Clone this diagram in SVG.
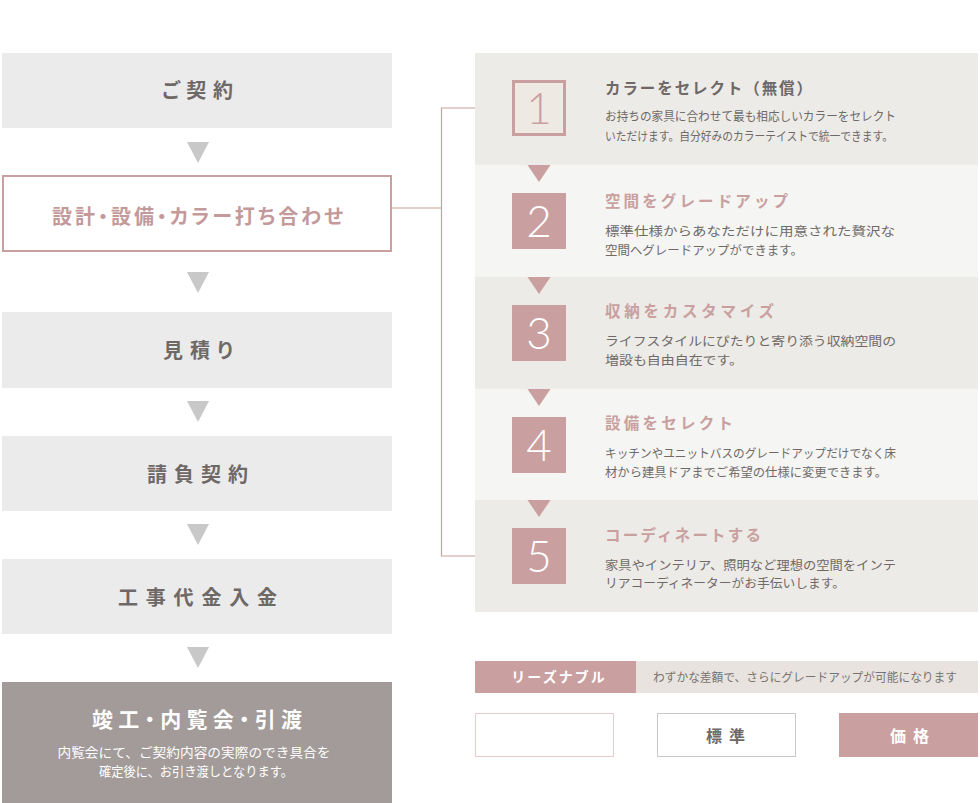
<svg xmlns="http://www.w3.org/2000/svg" width="980" height="803" viewBox="0 0 980 803">
<style>
.step{fill:#ebebeb}
.stepT{font-family:"Noto Sans CJK JP","Noto Sans",sans-serif;font-weight:700;font-size:20px;fill:#6e6867;font-feature-settings:"palt"}
.arrL{fill:#c8c8c8}
.arrR{fill:#c9a09f}
.conn{stroke:#c9a09f;stroke-width:1.2;fill:none}
.num{fill:#c9a09f}
.numT{font-family:"Lato","Open Sans","Liberation Sans",sans-serif;font-weight:300;font-size:44px;fill:#ffffff;text-anchor:middle}
.ttl{font-family:"Noto Sans CJK JP",sans-serif;font-weight:700;font-size:15.5px;fill:#c9a09f}
.body{font-family:"Noto Sans CJK JP",sans-serif;font-weight:400;font-size:12.5px;fill:#6f6a68}
</style>
<rect width="980" height="803" fill="#ffffff"/>

<g id="connectors">
<polygon class="arrL" points="187,142 209,142 198,163"/>
<polygon class="arrL" points="187,272 209,272 198,293"/>
<polygon class="arrL" points="187,401 209,401 198,422"/>
<polygon class="arrL" points="187,524 209,524 198,545"/>
<polygon class="arrL" points="187,647 209,647 198,668"/>
<polyline class="conn" points="392,208 441.5,208"/>
<polyline class="conn" points="512,108 441.5,108 441.5,556 512,556"/>
</g>

<g id="step-keiyaku">
<rect class="step" x="2" y="53" width="390" height="75"/>
<text class="stepT" x="162" y="98" textLength="71" lengthAdjust="spacing">ご契約</text>
</g>
<g id="step-uchiawase">
<rect x="3" y="176" width="388" height="75" fill="#ffffff" stroke="#c9a09f" stroke-width="2"/>
<text class="stepT" x="52" y="224" style="fill:#c4999a" textLength="291" lengthAdjust="spacing">設計・設備・カラー打ち合わせ</text>
</g>
<g id="step-mitsumori">
<rect class="step" x="2" y="312" width="390" height="76"/>
<text class="stepT" x="163" y="358" textLength="70" lengthAdjust="spacing">見積り</text>
</g>
<g id="step-ukeoi">
<rect class="step" x="2" y="436" width="390" height="75"/>
<text class="stepT" x="147" y="482" textLength="101" lengthAdjust="spacing">請負契約</text>
</g>
<g id="step-nyukin">
<rect class="step" x="2" y="559" width="390" height="75"/>
<text class="stepT" x="118" y="605" textLength="159" lengthAdjust="spacing">工事代金入金</text>
</g>
<g id="step-hikiwatashi">
<rect x="2" y="682" width="390" height="121" fill="#a29b99"/>
<text class="stepT" x="92" y="727" style="fill:#ffffff;font-size:21px" textLength="210" lengthAdjust="spacing">竣工・内覧会・引渡</text>
<text x="194" y="757" font-family="Noto Sans CJK JP, sans-serif" font-size="13" fill="#ffffff" text-anchor="middle" textLength="273" lengthAdjust="spacingAndGlyphs">内覧会にて、ご契約内容の実際のでき具合を</text>
<text x="196" y="776" font-family="Noto Sans CJK JP, sans-serif" font-size="13" fill="#ffffff" text-anchor="middle" textLength="194" lengthAdjust="spacingAndGlyphs">確定後に、お引き渡しとなります。</text>
</g>

<g id="opt-1">
<rect x="475" y="53" width="503" height="112" fill="#edebe7"/>
<rect x="513.5" y="81.5" width="51" height="53" fill="#efe9e4" stroke="#c9a09f" stroke-width="3"/>
<text class="numT" x="539" y="124" style="fill:#c9a09f">1</text>
<text class="ttl" x="605" y="94" style="fill:#6e6867" textLength="207" lengthAdjust="spacing">カラーをセレクト（無償）</text>
<text class="body" x="605" y="121" textLength="291" lengthAdjust="spacingAndGlyphs">お持ちの家具に合わせて最も相応しいカラーをセレクト</text>
<text class="body" x="605" y="141" textLength="288" lengthAdjust="spacingAndGlyphs">いただけます。自分好みのカラーテイストで統一できます。</text>
</g>
<g id="opt-2">
<rect x="475" y="165" width="503" height="112" fill="#f5f5f3"/>
<polygon class="arrR" points="527.5,165 550.5,165 539,182"/>
<rect class="num" x="512" y="193" width="54" height="56"/>
<text class="numT" x="539" y="237">2</text>
<text class="ttl" x="605" y="207" textLength="183" lengthAdjust="spacing">空間をグレードアップ</text>
<text class="body" x="605" y="236" textLength="290" lengthAdjust="spacingAndGlyphs">標準仕様からあなただけに用意された贅沢な</text>
<text class="body" x="605" y="255" textLength="198" lengthAdjust="spacingAndGlyphs">空間へグレードアップができます。</text>
</g>
<g id="opt-3">
<rect x="475" y="277" width="503" height="112" fill="#edebe7"/>
<polygon class="arrR" points="527.5,277 550.5,277 539,294"/>
<rect class="num" x="512" y="305" width="54" height="56"/>
<text class="numT" x="539" y="349">3</text>
<text class="ttl" x="605" y="317" textLength="169" lengthAdjust="spacing">収納をカスタマイズ</text>
<text class="body" x="605" y="346" textLength="291" lengthAdjust="spacingAndGlyphs">ライフスタイルにぴたりと寄り添う収納空間の</text>
<text class="body" x="605" y="365" textLength="138" lengthAdjust="spacingAndGlyphs">増設も自由自在です。</text>
</g>
<g id="opt-4">
<rect x="475" y="389" width="503" height="111" fill="#f5f5f3"/>
<polygon class="arrR" points="527.5,389 550.5,389 539,406"/>
<rect class="num" x="512" y="417" width="54" height="56"/>
<text class="numT" x="539" y="461">4</text>
<text class="ttl" x="605" y="429" textLength="128" lengthAdjust="spacing">設備をセレクト</text>
<text class="body" x="605" y="458" textLength="291" lengthAdjust="spacingAndGlyphs">キッチンやユニットバスのグレードアップだけでなく床</text>
<text class="body" x="605" y="477" textLength="282" lengthAdjust="spacingAndGlyphs">材から建具ドアまでご希望の仕様に変更できます。</text>
</g>
<g id="opt-5">
<rect x="475" y="500" width="503" height="112" fill="#edebe7"/>
<polygon class="arrR" points="527.5,500 550.5,500 539,517"/>
<rect class="num" x="512" y="528" width="54" height="56"/>
<text class="numT" x="539" y="572">5</text>
<text class="ttl" x="605" y="541" textLength="156" lengthAdjust="spacing">コーディネートする</text>
<text class="body" x="605" y="570" textLength="291" lengthAdjust="spacingAndGlyphs">家具やインテリア、照明など理想の空間をインテ</text>
<text class="body" x="605" y="588" textLength="240" lengthAdjust="spacingAndGlyphs">リアコーディネーターがお手伝いします。</text>
</g>

<g id="legend-reasonable">
<rect x="475" y="661" width="161" height="32" fill="#c9a09f"/>
<rect x="636" y="661" width="342" height="32" fill="#e8e3df"/>
<text x="559" y="682" font-family="Noto Sans CJK JP, sans-serif" font-weight="700" font-size="14" fill="#ffffff" text-anchor="middle" letter-spacing="2">リーズナブル</text>
<text x="653" y="682" font-family="Noto Sans CJK JP, sans-serif" font-size="12.5" fill="#7a7471" textLength="304" lengthAdjust="spacingAndGlyphs">わずかな差額で、さらにグレードアップが可能になります</text>
</g>
<g id="legend-blank">
<rect x="475.5" y="713.5" width="138" height="43" fill="#ffffff" stroke="#e6cccc" stroke-width="1"/>
</g>
<g id="legend-standard">
<rect x="657.5" y="713.5" width="138" height="43" fill="#ffffff" stroke="#c8c8c8" stroke-width="1"/>
<text x="729" y="742" font-family="Noto Sans CJK JP, sans-serif" font-weight="700" font-size="16" fill="#6e6867" text-anchor="middle" letter-spacing="7">標準</text>
</g>
<g id="legend-price">
<rect x="839" y="713" width="139" height="44" fill="#c9a09f"/>
<text x="913" y="742" font-family="Noto Sans CJK JP, sans-serif" font-weight="700" font-size="16" fill="#ffffff" text-anchor="middle" letter-spacing="7">価格</text>
</g>
</svg>
